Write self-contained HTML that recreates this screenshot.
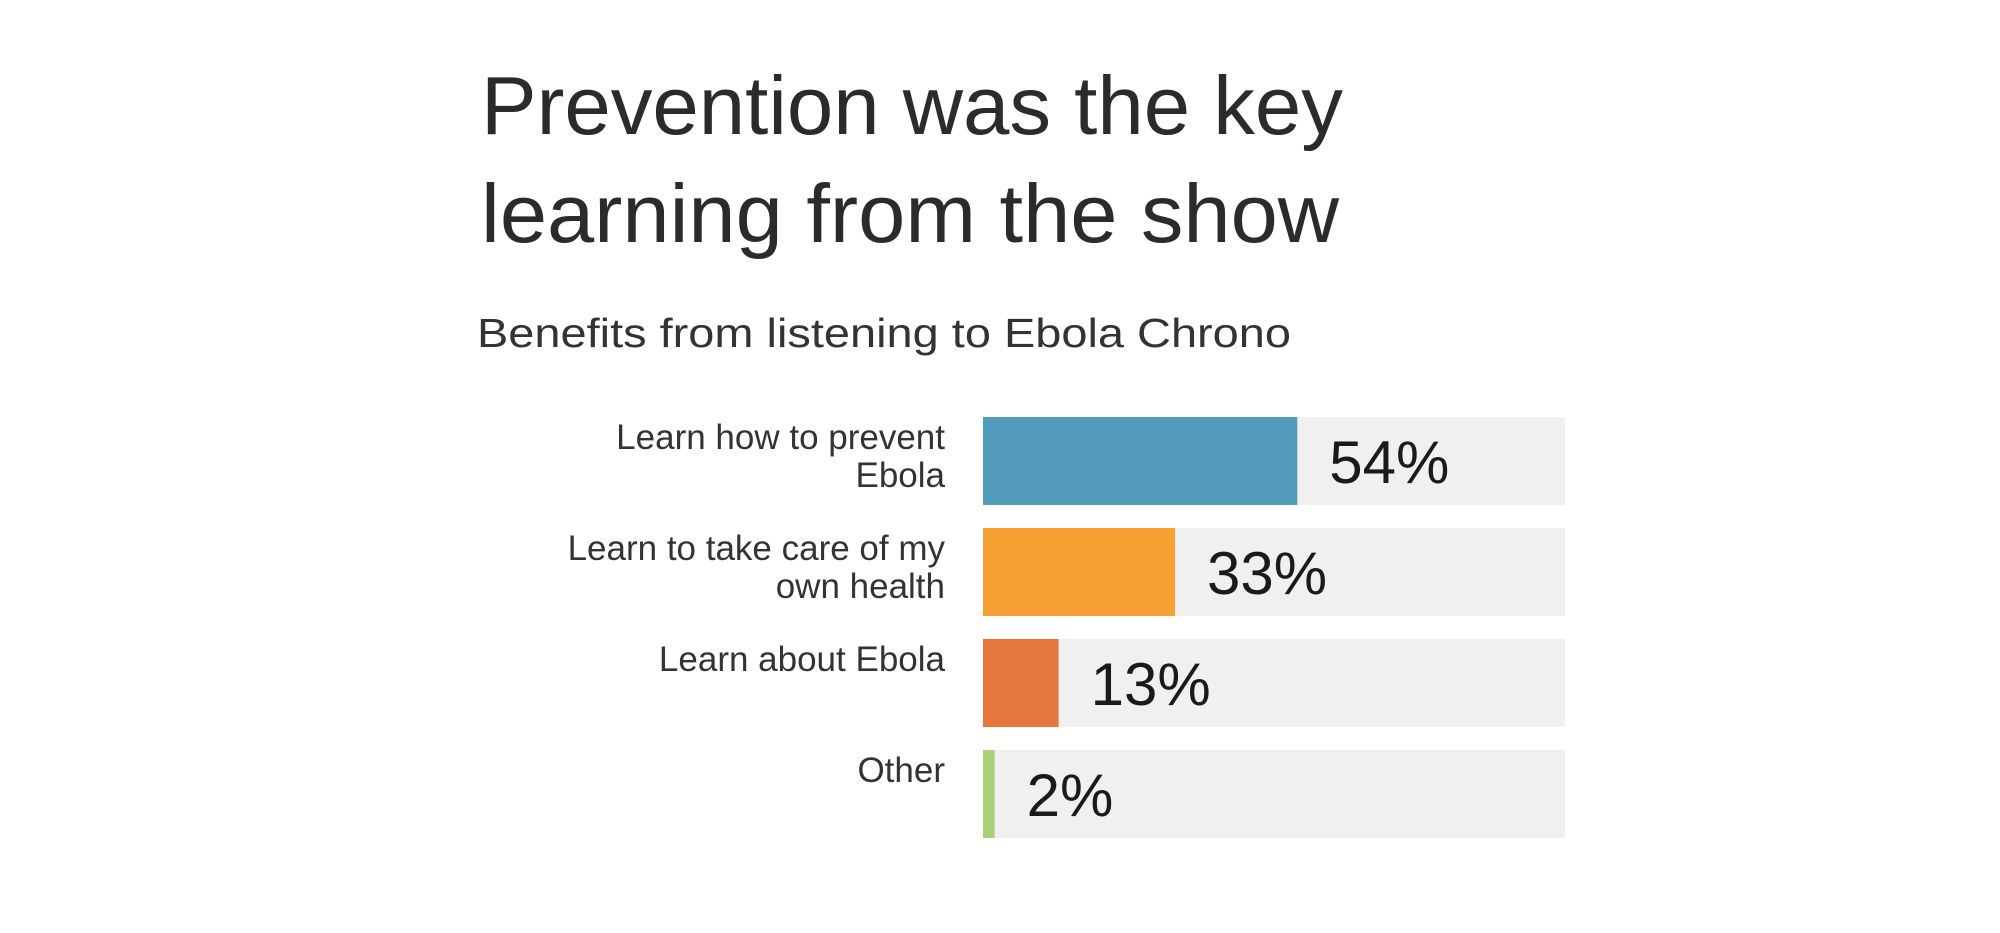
<!DOCTYPE html>
<html><head><meta charset="utf-8"><style>
html,body{margin:0;padding:0;background:#fff;}
svg{display:block;font-family:"Liberation Sans",Arial,sans-serif;}
</style></head><body>
<svg id="chart" width="2000" height="933" viewBox="0 0 2000 933">
<rect width="2000" height="933" fill="#fff"/>
<text x="481" y="134" font-size="83" fill="#2b2b2b" textLength="862" lengthAdjust="spacingAndGlyphs">Prevention was the key</text>
<text x="481" y="242" font-size="83" fill="#2b2b2b" textLength="858" lengthAdjust="spacingAndGlyphs">learning from the show</text>
<text x="477" y="347" font-size="41" fill="#333" textLength="814" lengthAdjust="spacingAndGlyphs">Benefits from listening to Ebola Chrono</text>
<g id="bars"></g>
</svg>
<script>
const categories = [["Learn how to prevent","Ebola"],["Learn to take care of my","own health"],["Learn about Ebola"],["Other"]];
const values = [54, 33, 13, 2];
const valueLabels = ["54%","33%","13%","2%"];
const colors = ["#529bba","#f7a034","#e5773e","#a9d17a"];

const NS = "http://www.w3.org/2000/svg";
const g = document.getElementById("bars");
const x0 = 983, fullW = 582, maxVal = 100;
const rowTop = 417, rowPitch = 111, rowH = 88;
const xScale = v => v / maxVal * fullW;
const yScale = i => rowTop + i * rowPitch;

values.forEach((v, i) => {
  const y = yScale(i);
  const bg = document.createElementNS(NS, "rect");
  
  
  bg.setAttribute("x", x0); bg.setAttribute("y", y);
  bg.setAttribute("width", fullW); bg.setAttribute("height", rowH);
  bg.setAttribute("fill", "#f0f0f0");
  g.appendChild(bg);

  const bar = document.createElementNS(NS, "rect");
  
  
  bar.setAttribute("x", x0); bar.setAttribute("y", y);
  bar.setAttribute("width", xScale(v)); bar.setAttribute("height", rowH);
  bar.setAttribute("fill", colors[i]);
  g.appendChild(bar);

  const lbl = document.createElementNS(NS, "text");
  
  
  lbl.setAttribute("x", x0 + xScale(v) + 32);
  lbl.setAttribute("y", y + rowH / 2 + 22);
  lbl.setAttribute("font-size", "60");
  lbl.setAttribute("fill", "#1a1a1a");
  lbl.textContent = valueLabels[i];
  g.appendChild(lbl);

  categories[i].forEach((line, j) => {
    const t = document.createElementNS(NS, "text");
    
    
    t.setAttribute("x", 945);
    t.setAttribute("y", y + 32 + j * 38);
    t.setAttribute("font-size", "35");
    t.setAttribute("fill", "#333");
    t.setAttribute("text-anchor", "end");
    t.textContent = line;
    g.appendChild(t);
  });
});
</script>
</body></html>
